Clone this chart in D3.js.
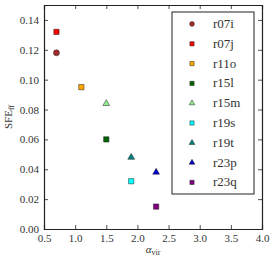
<!DOCTYPE html>
<html>
<head>
<meta charset="utf-8">
<script src="https://cdn.jsdelivr.net/npm/d3@7"></script>
<style>
  body { margin: 0; background: #fff; }
</style>
</head>
<body>
<div id="chart"></div>
<script>
// Runs shown in the chart
const runs = ["r07i", "r07j", "r11o", "r15l", "r15m", "r19s", "r19t", "r23p", "r23q"];
const alphaVir = [0.7, 0.7, 1.1, 1.5, 1.5, 1.9, 1.9, 2.3, 2.3];
const sfeFF = [0.118, 0.132, 0.095, 0.060, 0.084, 0.032, 0.048, 0.038, 0.015];
const colors = ["#a52a2a", "#ff0000", "#ffa500", "#006400", "#90ee90", "#00ffff", "#008080", "#0000cd", "#800080"];
const shapes = ["circle", "square", "square", "square", "triangle", "square", "triangle", "triangle", "square"];
const xTicks = [0.5, 1.0, 1.5, 2.0, 2.5, 3.0, 3.5, 4.0];
const yTicks = [0.00, 0.02, 0.04, 0.06, 0.08, 0.10, 0.12, 0.14];

const serif = "'Liberation Serif', 'DejaVu Serif', serif";
const width = 275, height = 264;
const margin = { top: 5, right: 13, bottom: 35, left: 44 };

const svg = d3.select("#chart").append("svg")
  .attr("width", width)
  .attr("height", height)
  .style("font-family", serif);

const x = d3.scaleLinear().domain([0.5, 4.0]).range([margin.left, width - margin.right]);
const y = d3.scaleLinear().domain([0, 0.15]).range([height - margin.bottom, margin.top]);

const symbolFor = (shape, size) => {
  const type = shape === "circle" ? d3.symbolCircle : shape === "square" ? d3.symbolSquare : d3.symbolTriangle;
  return d3.symbol().type(type).size(size)();
};

// axes with inward ticks on all sides
const tickLen = 4;
svg.append("g")
  .attr("transform", `translate(0,${y.range()[0]})`)
  .call(d3.axisBottom(x).tickValues(xTicks).tickSize(-tickLen).tickPadding(5).tickFormat(d3.format(".1f")));
svg.append("g")
  .attr("transform", `translate(0,${y.range()[1]})`)
  .call(d3.axisTop(x).tickValues(xTicks).tickSize(-tickLen).tickFormat(""));
svg.append("g")
  .attr("transform", `translate(${x.range()[0]},0)`)
  .call(d3.axisLeft(y).tickValues(yTicks).tickSize(-tickLen).tickPadding(5).tickFormat(d3.format(".2f")));
svg.append("g")
  .attr("transform", `translate(${x.range()[1]},0)`)
  .call(d3.axisRight(y).tickValues(yTicks).tickSize(-tickLen).tickFormat(""));

svg.selectAll("g").attr("font-family", null);
svg.selectAll(".domain").attr("stroke", "#222").attr("stroke-width", 1.2);
svg.selectAll(".tick line").attr("stroke", "#222").attr("stroke-width", 0.8);
svg.selectAll(".tick text")
  .style("font-family", serif)
  .style("font-size", "11px")
  .attr("fill", "#333");

// data points
runs.forEach((run, i) => {
  const size = shapes[i] === "triangle" ? 20 : 28;
  svg.append("path")
    .attr("d", symbolFor(shapes[i], size))
    .attr("transform", `translate(${x(alphaVir[i])},${y(sfeFF[i])})`)
    .attr("fill", colors[i])
    .attr("stroke", "#222")
    .attr("stroke-width", 0.5);
});

// legend
const legend = svg.append("g").attr("transform", "translate(172,12)");
legend.append("rect")
  .attr("width", 82).attr("height", 182)
  .attr("fill", "#fff").attr("stroke", "#222").attr("stroke-width", 1);
runs.forEach((run, i) => {
  const cy = 12 + i * 19.8;
  legend.append("path")
    .attr("d", symbolFor(shapes[i], shapes[i] === "triangle" ? 14 : 18))
    .attr("transform", `translate(20,${cy})`)
    .attr("fill", colors[i])
    .attr("stroke", "#222")
    .attr("stroke-width", 0.5);
  legend.append("text")
    .attr("x", 41).attr("y", cy + 4)
    .style("font-family", serif)
    .style("font-size", "13px")
    .attr("fill", "#333")
    .text(run);
});

// axis labels
const xl = svg.append("text")
  .attr("x", (x.range()[0] + x.range()[1]) / 2)
  .attr("y", 253)
  .attr("text-anchor", "middle")
  .style("font-family", serif)
  .style("font-size", "11px")
  .attr("fill", "#333");
xl.append("tspan").style("font-style", "italic").text("α");
xl.append("tspan").attr("dy", 2).style("font-size", "8px").text("vir");

const yl = svg.append("text")
  .attr("transform", `translate(12,${(y.range()[0] + y.range()[1]) / 2}) rotate(-90)`)
  .attr("text-anchor", "middle")
  .style("font-family", serif)
  .style("font-size", "11px")
  .attr("fill", "#333");
yl.append("tspan").text("SFE");
yl.append("tspan").attr("dy", 2).style("font-size", "8px").text("ff");
</script>
</body>
</html>
